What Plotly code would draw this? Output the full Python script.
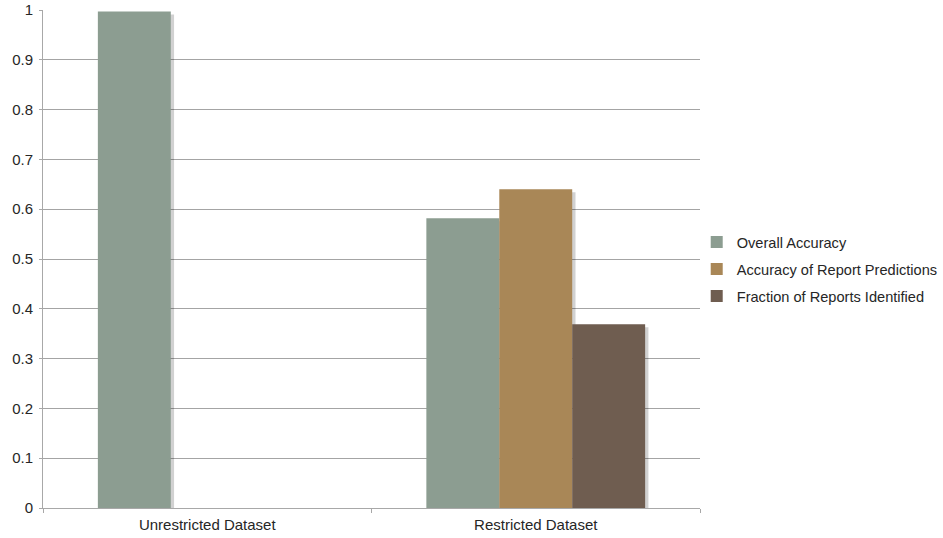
import plotly.graph_objects as go

categories = ["Unrestricted Dataset", "Restricted Dataset"]
series_names = [
    "Overall Accuracy",
    "Accuracy of Report Predictions",
    "Fraction of Reports Identified",
]
overall_accuracy = [0.997, 0.582]
report_accuracy = [0.0, 0.640]
reports_identified = [0.0, 0.369]
series_values = [overall_accuracy, report_accuracy, reports_identified]
series_colors = ["#8c9d91", "#a98757", "#6f5d50"]

BAR_W = 0.222
offsets = [-0.333, -0.111, 0.111]
FONT = "Liberation Sans, Arial, Helvetica, sans-serif"
TXT = "#262626"

fig = go.Figure()

# soft drop shadow behind each bar (same values, nudged right)
for vals, off in zip(series_values, offsets):
    fig.add_trace(go.Bar(
        x=categories, y=[max(v - 0.006, 0) for v in vals],
        width=BAR_W, offset=off + 0.010,
        marker=dict(color="rgba(0,0,0,0.18)", line=dict(width=0)),
        showlegend=False, hoverinfo="skip",
    ))

for name, vals, off, col in zip(series_names, series_values, offsets, series_colors):
    fig.add_trace(go.Bar(
        x=categories, y=vals, name=name,
        width=BAR_W, offset=off,
        marker=dict(color=col, line=dict(width=0)),
        legendgroup=name,
    ))

fig.update_layout(
    width=943, height=538,
    margin=dict(l=43, r=243, t=10, b=30, autoexpand=False),
    barmode="overlay",
    paper_bgcolor="white", plot_bgcolor="white",
    font=dict(family=FONT, size=15, color=TXT),
    showlegend=True,
    legend=dict(
        x=0.995, y=0.48, xanchor="left", yanchor="middle",
        font=dict(size=14.6, color=TXT),
        tracegroupgap=5, itemwidth=30,
        bgcolor="rgba(0,0,0,0)",
    ),
    xaxis=dict(
        showline=True, linecolor="#a8a8a8", linewidth=1,
        ticks="outside", tickson="boundaries", ticklen=4, tickcolor="#a8a8a8",
        showgrid=False, tickfont=dict(size=15, color=TXT), automargin=False,
        ticklabelstandoff=3,
    ),
    yaxis=dict(
        range=[0, 1], dtick=0.1, tick0=0,
        showline=True, linecolor="#a8a8a8", linewidth=1,
        ticks="outside", ticklen=3, tickcolor="#a8a8a8",
        showgrid=True, gridcolor="#a4a4a4", gridwidth=1,
        zeroline=False, tickfont=dict(size=15, color=TXT),
        fixedrange=True, automargin=False, ticklabelstandoff=3,
    ),
)

fig.write_html("out.html")
